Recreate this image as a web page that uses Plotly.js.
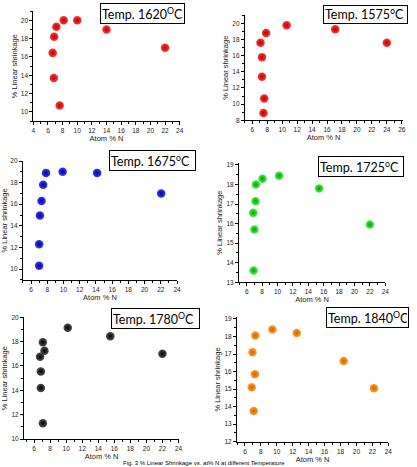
<!DOCTYPE html>
<html>
<head>
<meta charset="utf-8">
<script src="https://cdn.plot.ly/plotly-3.0.1.min.js"></script>
<style>html,body{margin:0;padding:0;background:#fff;}#chart{width:417px;height:467px;}</style>
</head>
<body>
<div id="chart"></div>
<script>
// ---- Data ----
const atN1620 = [6.65, 6.8, 6.85, 7.15, 7.6, 8.15, 10.0, 14.0, 22.0];
const shr1620 = [16.45, 13.7, 18.2, 19.3, 10.7, 20.0, 20.0, 19.0, 17.0];

const atN1575 = [7.1, 7.3, 7.3, 7.6, 7.5, 7.85, 10.6, 17.1, 24.0];
const shr1575 = [17.6, 15.8, 13.4, 10.7, 8.9, 18.8, 19.75, 19.25, 17.6];

const atN1675 = [7.0, 7.0, 7.1, 7.3, 7.5, 7.85, 9.9, 14.15, 22.05];
const shr1675 = [10.3, 12.3, 14.95, 16.3, 17.8, 18.9, 19.0, 18.9, 17.0];

const atN1725 = [6.9, 7.0, 6.85, 7.15, 7.2, 8.05, 10.2, 15.4, 22.0];
const shr1725 = [13.6, 15.7, 16.55, 17.15, 18.0, 18.3, 18.45, 17.8, 15.95];

const atN1780 = [7.1, 6.85, 6.85, 6.75, 7.3, 7.1, 10.2, 15.5, 22.0];
const shr1780 = [11.3, 14.2, 15.55, 16.75, 17.25, 17.95, 19.15, 18.45, 17.0];

const atN1840 = [7.1, 6.85, 7.25, 6.95, 7.3, 9.45, 12.5, 18.4, 22.2];
const shr1840 = [13.75, 15.1, 15.85, 17.1, 18.05, 18.4, 18.2, 16.6, 15.05];

const panelTitles = ['Temp. 1620<sup>O</sup>C', 'Temp. 1575°C', 'Temp. 1675<sup>o</sup>C',
                     'Temp. 1725<sup>o</sup>C', 'Temp. 1780<sup>O</sup>C', 'Temp. 1840<sup>O</sup>C'];
const xTitle = 'Atom % N';
const yTitle = '% Linear shrinkage';
const caption = 'Fig. 3 % Linear Shrinkage vs. at% N at different Temperature';

// ---- Layout geometry (pixels) ----
const W = 417, H = 467;
const panels = [
  {x: atN1620, y: shr1620, c: '#ff3a3a', c2: '#b00000', xr: [4, 24],    yr: [9, 21],    px: [33.3, 179.7], py: [11.2, 121.1], ydt: 2, box: [100, 3, 85], so: 2},
  {x: atN1575, y: shr1575, c: '#ff3a3a', c2: '#b00000', xr: [5, 26.1],  yr: [8, 21],    px: [244.8, 402.5], py: [15.2, 120.3], ydt: 2, box: [323, 5, 85], so: 2},
  {x: atN1675, y: shr1675, c: '#3a3aff', c2: '#00008a', xr: [5, 24],    yr: [9, 20],    px: [22.9, 177],   py: [161, 279.8], ydt: 2, box: [109, 150, 87], so: 2},
  {x: atN1725, y: shr1725, c: '#4cf04c', c2: '#00a000', xr: [5, 24],    yr: [13, 19.1], px: [239, 385.3],  py: [163, 282.3], ydt: 1, box: [318, 156, 86], so: 2},
  {x: atN1780, y: shr1780, c: '#505050', c2: '#000000', xr: [4.75, 24.1], yr: [10, 20], px: [24, 179.3],   py: [317.3, 439], ydt: 2, box: [111, 308, 89], so: 1},
  {x: atN1840, y: shr1840, c: '#ffa030', c2: '#c86400', xr: [5, 24],    yr: [12, 19.1], px: [237, 388.3],  py: [317.2, 441.7], ydt: 1, box: [326, 307, 83], so: 1}
];

const traces = [];
const layout = {
  width: W, height: H,
  margin: {l: 0, r: 0, t: 0, b: 0},
  paper_bgcolor: '#fff', plot_bgcolor: 'rgba(0,0,0,0)',
  showlegend: false,
  font: {family: 'Liberation Sans, Arial, sans-serif', color: '#222'},
  annotations: []
};

panels.forEach((p, i) => {
  const n = i + 1;
  const xa = 'x' + (n === 1 ? '' : n), ya = 'y' + (n === 1 ? '' : n);
  traces.push({
    type: 'scatter', mode: 'markers', x: p.x, y: p.y, xaxis: xa, yaxis: ya,
    marker: {size: 8.5, color: p.c, gradient: {type: 'radial', color: p.c2}, line: {width: 0}},
    hoverinfo: 'x+y'
  });
  const common = {
    showline: true, linecolor: '#000', linewidth: 1, mirror: false,
    ticks: 'outside', ticklen: 3, tickwidth: 1, tickcolor: '#000',
    showgrid: false, zeroline: false, automargin: false, fixedrange: true,
    tickfont: {size: 6.5, family: 'Liberation Sans, Arial, sans-serif', color: '#222'}
  };
  layout['xaxis' + (n === 1 ? '' : n)] = Object.assign({}, common, {
    domain: [p.px[0] / W, p.px[1] / W], range: p.xr, anchor: ya,
    dtick: 2, tick0: 0,
    minor: {dtick: 1, tick0: 0, ticks: 'outside', ticklen: 2, tickcolor: '#000', tickwidth: 1},
    title: {text: xTitle, font: {size: 7.5, color: '#222'}, standoff: p.so}
  });
  layout['yaxis' + (n === 1 ? '' : n)] = Object.assign({}, common, {
    domain: [1 - p.py[1] / H, 1 - p.py[0] / H], range: p.yr, anchor: xa,
    dtick: p.ydt, tick0: 0,
    minor: {dtick: p.ydt / 2, tick0: 0, ticks: 'outside', ticklen: 2, tickcolor: '#000', tickwidth: 1},
    title: {text: yTitle, font: {size: 7.5, color: '#222'}, standoff: 2}
  });
  const b = p.box;
  layout.annotations.push({
    xref: 'paper', yref: 'paper', x: b[0] / W, y: 1 - b[1] / H,
    xanchor: 'left', yanchor: 'top', showarrow: false,
    text: panelTitles[i], align: 'left',
    width: b[2] - 4, borderpad: 1,
    bordercolor: '#000', borderwidth: 1, bgcolor: '#fff',
    font: {size: 12.5, family: 'Lato, Noto Sans, sans-serif', color: '#000'}
  });
});

layout.annotations.push({
  xref: 'paper', yref: 'paper', x: 122 / W, y: 0,
  xanchor: 'left', yanchor: 'bottom', showarrow: false, borderpad: 0,
  text: caption, font: {size: 6, family: 'Liberation Sans, Arial, sans-serif', color: '#000'}
});

Plotly.newPlot('chart', traces, layout, {displayModeBar: false, staticPlot: true});
</script>
</body>
</html>
